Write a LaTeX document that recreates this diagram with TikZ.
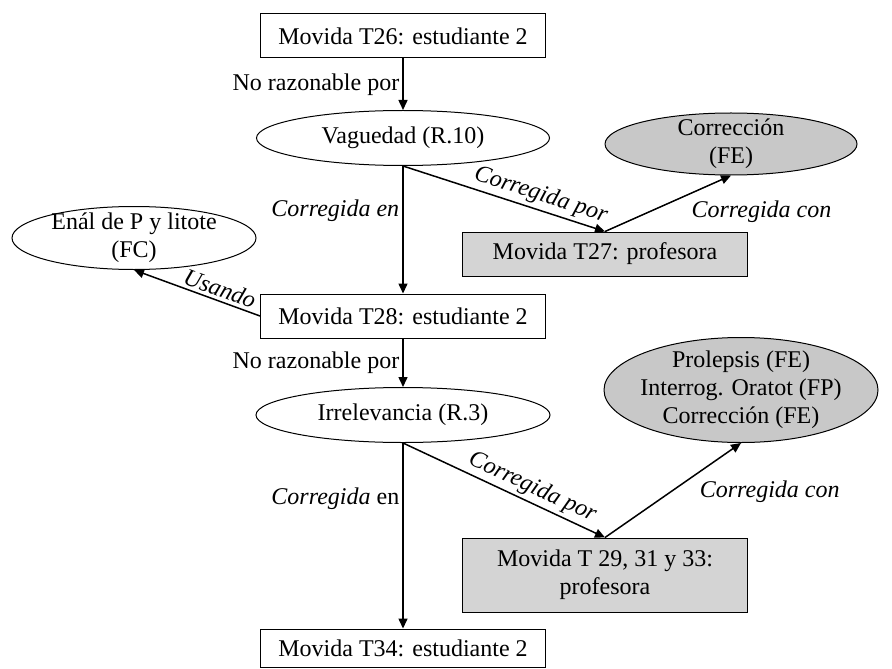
\documentclass[tikz,border=0pt]{standalone}
\usepackage{fontspec}
\setmainfont{Liberation Serif}
\usetikzlibrary{arrows.meta,positioning,shapes.geometric}
\definecolor{ovalgray}{HTML}{C8C8C8}
\definecolor{boxgray}{HTML}{D4D4D4}

\begin{document}
\begin{tikzpicture}[x=0.5pt,y=-0.5pt,every node/.style={font=\fontsize{12}{14}\selectfont},
  box/.style={draw,line width=0.5pt,minimum width=142.5pt,minimum height=22pt,inner sep=0pt,align=center},
  gbox/.style={box,fill=boxgray},
  oval/.style={ellipse,draw,line width=0.5pt,inner xsep=-2pt,inner ysep=-3pt,align=center},
  goval/.style={oval,fill=ovalgray},
  arr/.style={-{Triangle[length=5pt,width=4.5pt]},line width=0.75pt},
  rarr/.style={{Triangle[length=5pt,width=4.5pt]}-,line width=0.75pt},
  lbl/.style={inner sep=1.5pt},
  ilbl/.style={lbl,font=\fontsize{12}{14}\selectfont\itshape}]
\fill[white] (0,0) rectangle (892,668);
\useasboundingbox (0,0) rectangle (892,668);
\node[box] (t26) at (403,36) {Movida T26: estudiante 2};
\node[oval,minimum width=146.5pt,minimum height=27.5pt] (vag) at (403,138) {Vaguedad (R.10)};
\node[goval,minimum width=126pt,minimum height=31pt] (corr) at (731,144) {Corrección\\(FE)};
\node[gbox] (t27) at (605,254) {Movida T27: profesora};
\node[oval,minimum width=122pt,minimum height=31.5pt] (enal) at (134,238) {Enál de P y litote\\(FC)};
\node[box] (t28) at (403,316) {Movida T28: estudiante 2};
\node[oval,minimum width=147pt,minimum height=27.5pt] (irr) at (403,415) {Irrelevancia (R.3)};
\node[goval,minimum width=137pt,minimum height=52.5pt] (prol) at (741,390) {Prolepsis (FE)\\Interrog. Oratot (FP)\\Corrección (FE)};
\node[gbox,minimum height=37pt] (t29) at (605,575) {Movida T 29, 31 y 33:\\profesora};
\node[box,minimum height=19pt] (t34) at (403,648) {Movida T34: estudiante 2};
% first move
\draw[arr] (t26) -- node[lbl,left] {No razonable por} (vag);
\draw[arr] (vag) -- node[ilbl,left,pos=0.35] {Corregida en} (t28);
\draw[arr] (vag.south) -- node[ilbl,sloped,above,pos=0.66] {Corregida por} (t27.north);
\draw[arr] (t27.north) -- node[ilbl,pos=0.61,anchor=north west,xshift=3pt] {Corregida con} (corr.south);
\draw[rarr] (enal.south) -- node[ilbl,sloped,above,pos=0.65] {Usando} (t28.west);
% second move
\draw[arr] (t28) -- node[lbl,left] {No razonable por} (irr);
\draw[arr] (irr) -- node[lbl,left,pos=0.3] {\textit{Corregida} en} (t34);
\draw[arr] (irr.south) -- node[ilbl,sloped,above,pos=0.61] {Corregida por} (t29.north);
\draw[arr] (t29.north) -- node[ilbl,pos=0.64,anchor=north west,xshift=2pt] {Corregida con} (prol.south);
\end{tikzpicture}
\end{document}
